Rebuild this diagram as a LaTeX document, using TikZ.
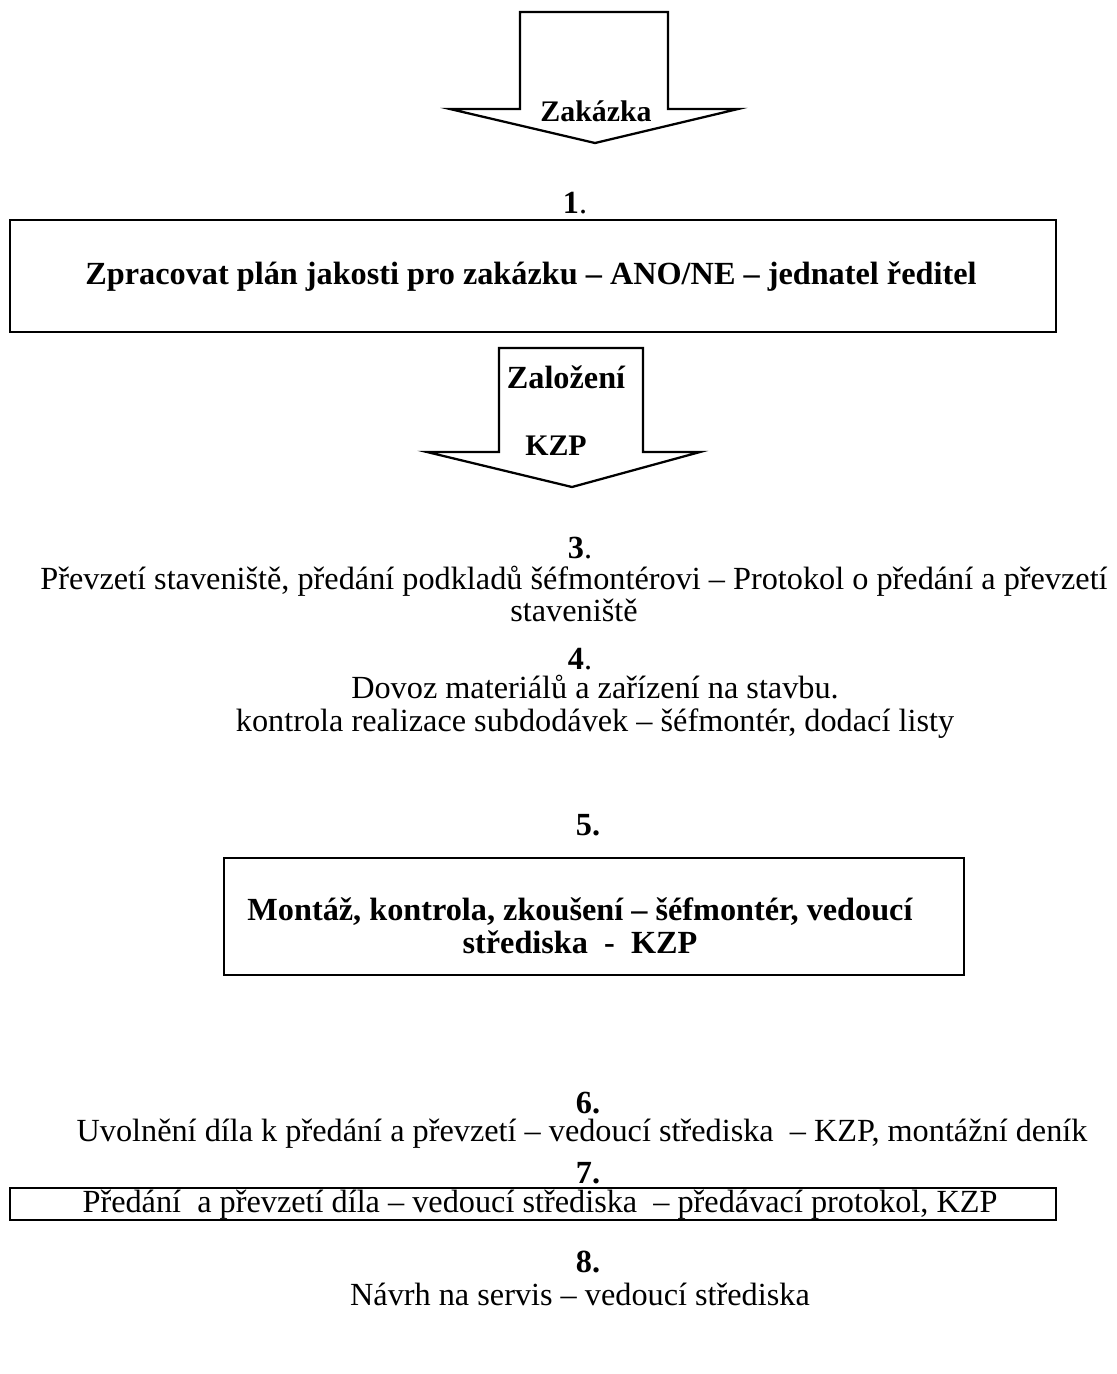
\documentclass[tikz,border=0pt]{standalone}
\usepackage{fontspec}
\setmainfont{Liberation Serif}
\begin{document}
\begin{tikzpicture}[x=0.375pt,y=-0.375pt,
  outline/.style={draw=black,line width=0.85pt,line join=miter},
  frame/.style={draw=black,line width=0.85pt,inner sep=0pt},
  txt/.style={inner sep=0pt,align=center,font=\fontsize{12.1}{12.2}\selectfont},
  btxt/.style={inner sep=0pt,align=center,font=\fontsize{12.1}{12.2}\selectfont\bfseries},
  atxt/.style={inner sep=0pt,font=\fontsize{11.2}{12}\selectfont\bfseries}]
\useasboundingbox (0,0) rectangle (1117,1374);

% block arrow: Zakazka
\coordinate (a1tl) at (520,12);
\coordinate (a1tr) at (668,12);
\coordinate (a1sr) at (668,109);
\coordinate (a1wr) at (738,109);
\coordinate (a1tip) at (595,143);
\coordinate (a1wl) at (450,109);
\coordinate (a1sl) at (520,109);
\draw[outline] (a1tl) -- (a1tr) -- (a1sr) -- (a1wr) -- (a1tip) -- (a1wl) -- (a1sl) -- cycle;
\node[atxt] (zak) at (596,111) {Zakázka};

% step 1
\node[txt] (n1) at (575,203) {\textbf{1}.};
\node[frame,minimum width=392.25pt,minimum height=42pt] (b1) at (533,276) {};
\node[btxt] (t1) at (531,277) {Zpracovat plán jakosti pro zakázku – ANO/NE – jednatel ředitel};

% block arrow: Zalozeni KZP
\coordinate (a2tl) at (499,348);
\coordinate (a2tr) at (643,348);
\coordinate (a2sr) at (643,452);
\coordinate (a2wr) at (700,452);
\coordinate (a2tip) at (572,487);
\coordinate (a2wl) at (427,452);
\coordinate (a2sl) at (499,452);
\draw[outline] (a2tl) -- (a2tr) -- (a2sr) -- (a2wr) -- (a2tip) -- (a2wl) -- (a2sl) -- cycle;
\node[btxt] (zal) at (566,377) {Založení};
\node[atxt] (kzp) at (556,446) {KZP};

% step 3
\node[txt] (n3) at (580,548) {\textbf{3}.};
\node[txt] (t3) at (574,594) {Převzetí staveniště, předání podkladů šéfmontérovi – Protokol o předání a převzetí\\ staveniště};

% step 4
\node[txt] (n4) at (580,659) {\textbf{4}.};
\node[txt] (t4) at (595,707) {Dovoz materiálů a zařízení na stavbu.\\ kontrola realizace subdodávek – šéfmontér, dodací listy};

% step 5
\node[btxt] (n5) at (588,825) {5.};
\node[frame,minimum width=277.5pt,minimum height=43.9pt] (b5) at (594,916.5) {};
\node[btxt] (t5) at (580,926) {Montáž, kontrola, zkoušení – šéfmontér, vedoucí\\ střediska \ - \ KZP};

% step 6
\node[btxt] (n6) at (588,1103) {6.};
\node[txt] (t6) at (582,1134) {Uvolnění díla k předání a převzetí – vedoucí střediska \ – KZP, montážní deník};

% step 7
\node[btxt] (n7) at (588,1173) {7.};
\node[frame,minimum width=392.25pt,minimum height=12pt] (b7) at (533,1204) {};
\node[txt] (t7) at (540,1205) {Předání \ a převzetí díla – vedoucí střediska \ – předávací protokol, KZP};

% step 8
\node[btxt] (n8) at (588,1262) {8.};
\node[txt] (t8) at (580,1294) {Návrh na servis – vedoucí střediska};
\end{tikzpicture}
\end{document}
